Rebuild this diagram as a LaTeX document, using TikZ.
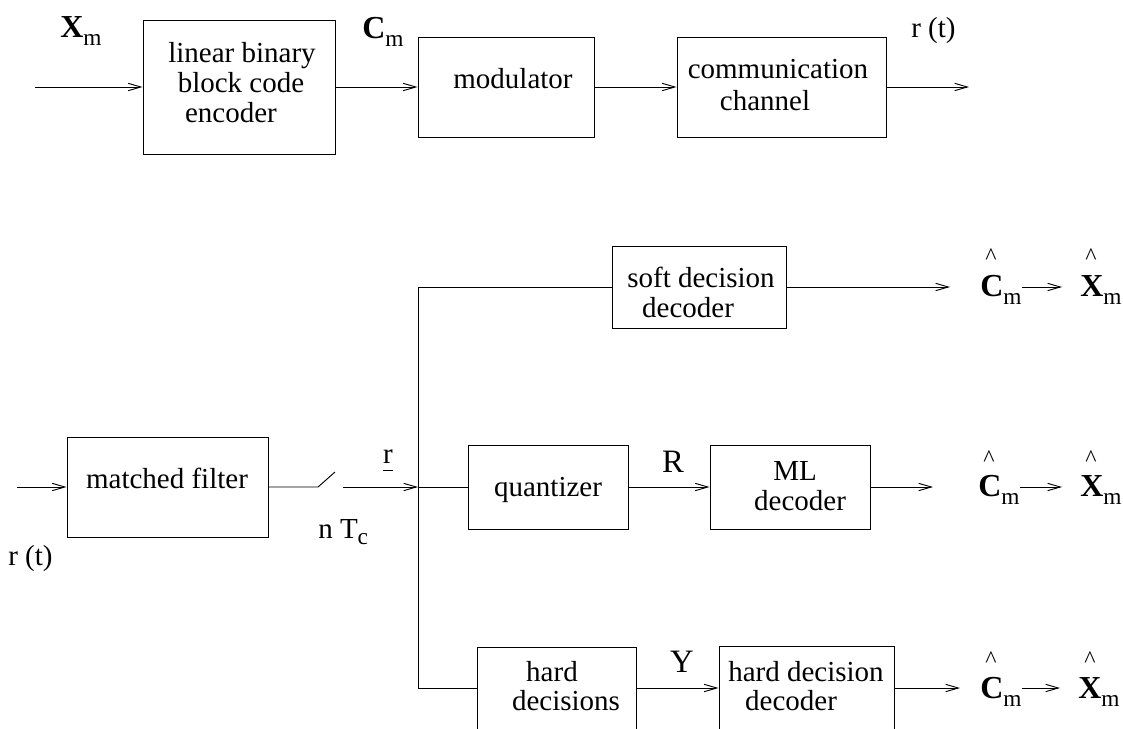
\documentclass[tikz,border=0pt]{standalone}
\usepackage{fontspec}
\setmainfont{Liberation Serif}
\usetikzlibrary{arrows.meta,fit}

% text sizes used in the block diagram
\newcommand\txtsize{\fontsize{21.75pt}{22.5pt}\selectfont}
\newcommand\letsize{\fontsize{24.5pt}{24.5pt}\selectfont}
\newcommand\boldsize{\fontsize{24pt}{24pt}\selectfont\bfseries}
\newcommand\subsize{\fontsize{17.5pt}{17.5pt}\selectfont}
\newcommand\hatsize{\fontsize{18pt}{18pt}\selectfont}
% bold vector symbol with roman subscript m
\newcommand\vecsym[1]{{\boldsize #1}\raisebox{-6pt}{\subsize m}}

\tikzset{
  blk/.style={draw, line width=0.7pt, inner sep=0pt},
  lbl/.style={anchor=base, inner sep=0pt, font=\txtsize},
  sym/.style={anchor=base west, inner sep=0pt},
  wire/.style={line width=0.7pt},
  sig/.style={line width=0.7pt, -{Straight Barb[length=9.5pt,width=5.5pt]}}
}

\begin{document}
\begin{tikzpicture}[x=0.75pt,y=-0.75pt]
\useasboundingbox (0,0) rectangle (1123,728);
\clip (0,0) rectangle (1123,728);

% ---------- transmitter chain ----------
\node[blk, fit={(143,20) (335,154)}] (enc) {};
\node[blk, fit={(418,37) (594,137)}] (mod) {};
\node[blk, fit={(677,37) (886,137)}] (chan) {};

\node[lbl] (encA) at (242,62) {linear binary};
\node[lbl] (encB) at (241,92) {block code};
\node[lbl] (encC) at (231,122) {encoder};
\node[lbl] (modA) at (513,88) {modulator};
\node[lbl] (chA) at (778,78) {communication};
\node[lbl] (chB) at (765,110) {channel};

\node[sym] (xin) at (60,37) {\vecsym{X}};
\node[sym] (cin) at (362,38) {\vecsym{C}};
\node[sym, font=\txtsize] (rtop) at (911,37) {r (t)};

\coordinate (in1) at (35,87);
\coordinate (out0) at (969,87);
\draw[sig] (in1) -- (enc);
\draw[sig] (enc) -- (mod);
\draw[sig] (mod) -- (chan);
\draw[sig] (chan) -- (out0);

% ---------- receiver ----------
\node[blk, fit={(67,437) (268,537)}] (mf) {};
\node[blk, fit={(612,246) (786,328)}] (soft) {};
\node[blk, fit={(468,445) (628,529)}] (quant) {};
\node[blk, fit={(710,445) (870,529)}] (ml) {};
\node[blk, fit={(477,647) (636,729)}] (hdec) {};
\node[blk, fit={(719,646) (894,730)}] (hdd) {};

\node[lbl] (mfA) at (167,488) {matched filter};
\node[lbl] (softA) at (701,287) {soft decision};
\node[lbl] (softB) at (688,317) {decoder};
\node[lbl] (quA) at (548,496) {quantizer};
\node[lbl] (mlA) at (795,480) {ML};
\node[lbl] (mlB) at (800,510) {decoder};
\node[lbl] (hdA) at (552,681) {hard};
\node[lbl] (hdB) at (566,710) {decisions};
\node[lbl] (hddA) at (806,681) {hard decision};
\node[lbl] (hddB) at (791,710) {decoder};

\node[sym, font=\txtsize] (rbot) at (8,565) {r (t)};
\node[lbl] (rvec) at (388,463) {\setbox0\hbox{r}\rlap{\rule[-6pt]{\wd0}{0.6pt}}r};
\node[sym, font=\txtsize] (samp) at (318,538) {n T\raisebox{-5pt}{\subsize c}};
\node[lbl, font=\letsize] (Rlab) at (673,472) {R};
\node[lbl, font=\letsize] (Ylab) at (682,672) {Y};

% sampler switch and branching point
\coordinate (in2) at (17,487);
\coordinate (sw1) at (318,487);
\coordinate (sw2) at (335,472);
\coordinate (sw3) at (343,487);
\coordinate (j) at (418,487);
\coordinate (jt) at (418,287);
\coordinate (jb) at (418,688);

\draw[sig] (in2) -- (mf);
\draw[wire] (mf) -- (sw1) -- (sw2);
\draw[sig] (sw3) -- (j);
\draw[wire] (jt) -- (jb);
\draw[wire] (jt) -- (soft);
\draw[wire] (j) -- (quant);
\draw[wire] (jb) -- (hdec);
\draw[sig] (quant) -- (ml);
\draw[sig] (hdec) -- (hdd);

% decoder outputs
\coordinate (o1) at (950,287);
\coordinate (o2) at (933,487);
\coordinate (o3) at (960,688);
\draw[sig] (soft) -- (o1);
\draw[sig] (ml) -- (o2);
\draw[sig] (hdd) -- (o3);

\node[sym] (c1) at (980,296) {\vecsym{C}};
\node[sym] (x1) at (1080,296) {\vecsym{X}};
\node[sym] (c2) at (978,496) {\vecsym{C}};
\node[sym] (x2) at (1080,496) {\vecsym{X}};
\node[sym] (c3) at (980,698) {\vecsym{C}};
\node[sym] (x3) at (1078,698) {\vecsym{X}};

\node[lbl, font=\hatsize] (hc1) at (991,264) {\textasciicircum};
\node[lbl, font=\hatsize] (hx1) at (1091,264) {\textasciicircum};
\node[lbl, font=\hatsize] (hc2) at (989,466) {\textasciicircum};
\node[lbl, font=\hatsize] (hx2) at (1091,466) {\textasciicircum};
\node[lbl, font=\hatsize] (hc3) at (991,667) {\textasciicircum};
\node[lbl, font=\hatsize] (hx3) at (1090,667) {\textasciicircum};

\draw[sig, shorten >=13.5pt] (c1.east |- o1) -- (x1.west |- o1);
\draw[sig, shorten >=13.5pt] (c2.east |- o2) -- (x2.west |- o2);
\draw[sig, shorten >=13.5pt] (c3.east |- o3) -- (x3.west |- o3);
\end{tikzpicture}
\end{document}
